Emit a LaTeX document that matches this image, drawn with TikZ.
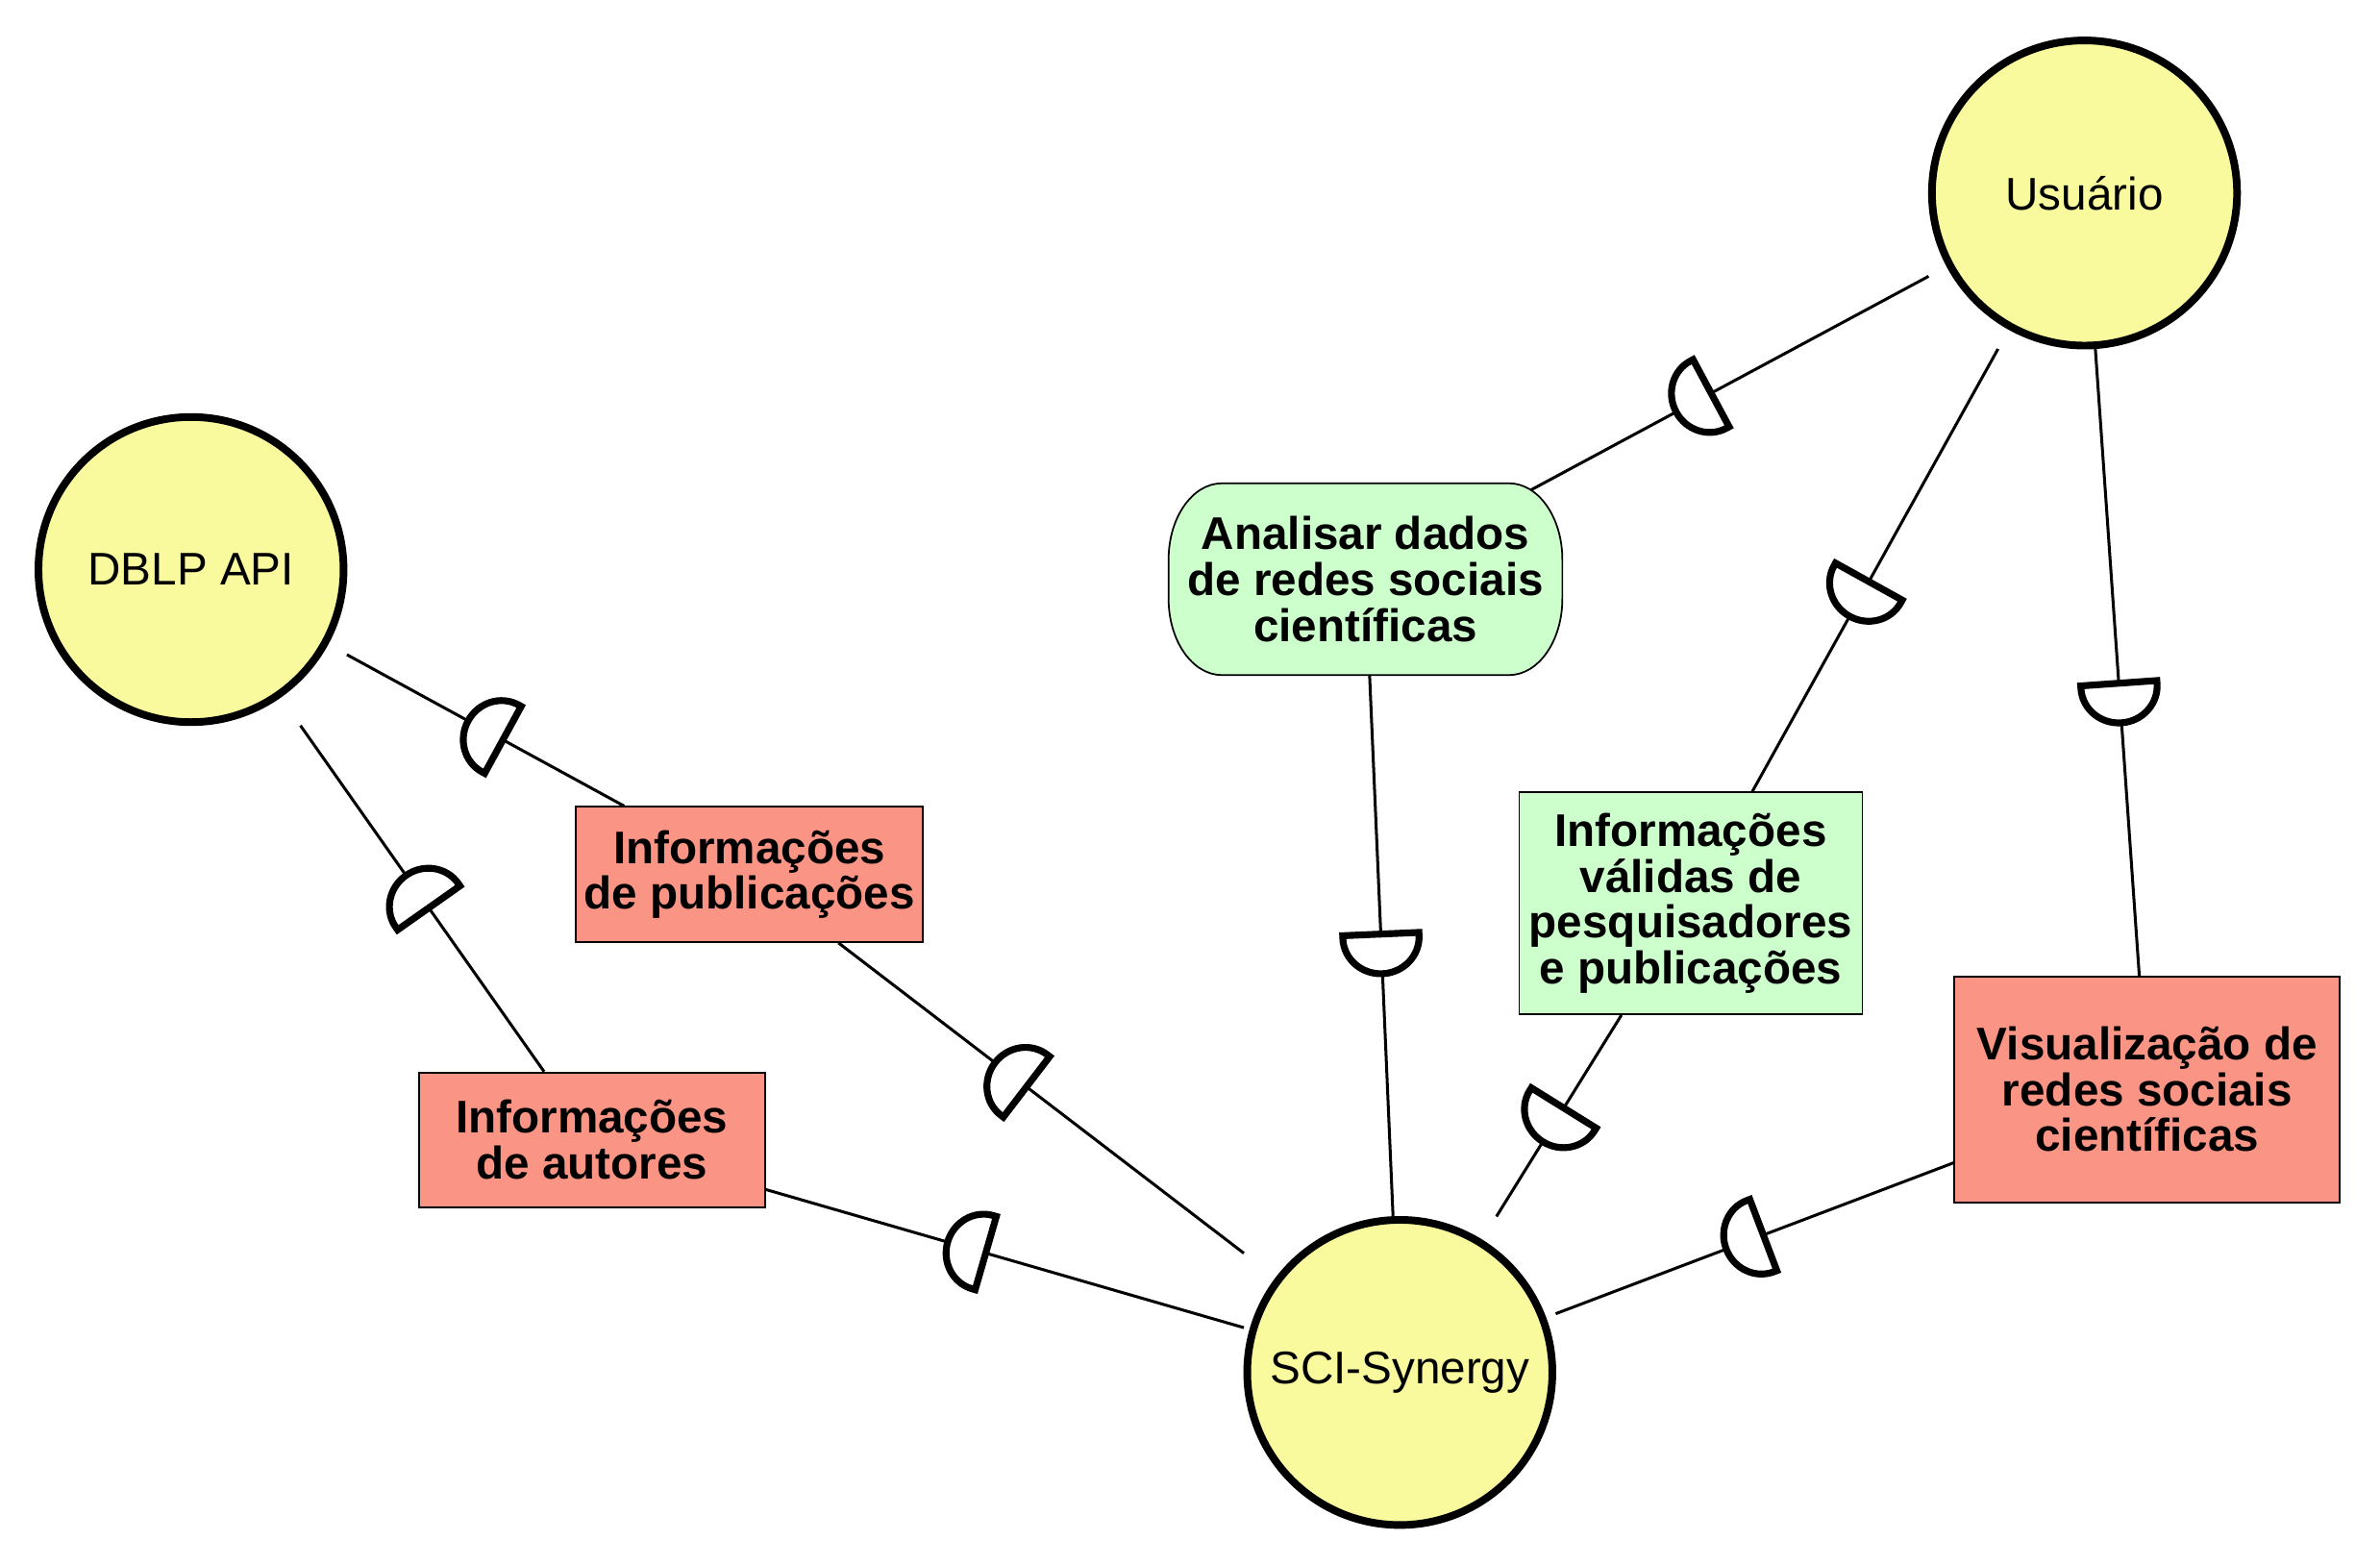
\documentclass[tikz,border=0pt]{standalone}
\usepackage{fontspec}
\setmainfont{Liberation Sans}
\usetikzlibrary{decorations.markings,backgrounds}
\definecolor{ycirc}{RGB}{249,249,157}
\definecolor{salmon}{RGB}{250,148,132}
\definecolor{mint}{RGB}{204,255,204}
\tikzset{
  ring/.style={circle, draw, line width=5pt, fill=ycirc, minimum size=200pt, inner sep=0pt},
  hub/.style={rectangle, minimum size=204pt, inner sep=0pt, font=\fontsize{30}{30}\selectfont},
  boxbase/.style={rectangle, inner sep=0pt, align=center,
    font=\fontsize{30}{30}\selectfont\bfseries},
  redbox/.style={boxbase, draw, line width=1.1pt, fill=salmon},
  greenbox/.style={boxbase, draw, line width=1.1pt, fill=mint},
  softbox/.style={boxbase},
  softline/.style={draw, line width=1.1pt, fill=mint},
  conn/.style={line width=1.9pt},
  dsym/.style={postaction={decorate, decoration={markings,
      mark=at position #1 with {\draw[line width=4.5pt, fill=white, line join=miter]
        (-13pt,-25pt) -- (-13pt,25pt) -- (-11pt,25pt)
        arc[start angle=90, end angle=-90, x radius=24pt, y radius=25pt] -- cycle;}}}}
}
\begin{document}
\begin{tikzpicture}[x=1pt,y=1pt]
\useasboundingbox (0,0) rectangle (1560,-1025.7);
% circles
\node[ring] (dblpring) at (125.2,-373.3) {};
\node[hub] (dblp) at (dblpring.center) {DBLP API};
\node[ring] (usrring) at (1366.3,-126.5) {};
\node[hub] (usr) at (usrring.center) {Usuário};
\node[ring] (sciring) at (917.5,-899.5) {};
\node[hub] (sci) at (sciring.center) {SCI-Synergy};
% boxes
\node[softbox, minimum width=257.7pt, minimum height=125.3pt]
  (ana) at (895,-379.6) {Analisar dados\\de redes sociais\\científicas};
\begin{pgfonlayer}{background}
\path[softline]
  ([xshift=35pt]ana.north west) -- ([xshift=-35pt]ana.north east)
  arc[start angle=90, end angle=0, x radius=35pt, y radius=50pt]
  -- ([yshift=50pt]ana.south east)
  arc[start angle=0, end angle=-90, x radius=35pt, y radius=50pt]
  -- ([xshift=35pt]ana.south west)
  arc[start angle=270, end angle=180, x radius=35pt, y radius=50pt]
  -- ([yshift=-50pt]ana.north west)
  arc[start angle=180, end angle=90, x radius=35pt, y radius=50pt]
  -- cycle;
\end{pgfonlayer}
\node[redbox, minimum width=227.2pt, minimum height=88.6pt]
  (ipub) at (491.2,-573.1) {Informações\\de publicações};
\node[redbox, minimum width=227pt, minimum height=88.2pt]
  (iaut) at (388,-747) {Informações\\de autores};
\node[greenbox, minimum width=225pt, minimum height=145.5pt]
  (ival) at (1108.2,-592) {Informações\\válidas de\\pesquisadores\\e publicações};
\node[redbox, minimum width=252.6pt, minimum height=148pt]
  (vis) at (1407.4,-714) {Visualização de\\redes sociais\\científicas};
% connectors
\draw[conn, dsym=0.5]   (ipub) -- (dblp);
\draw[conn, dsym=0.52]  (iaut) -- (dblp);
\draw[conn, dsym=0.575] (sci) -- (ipub);
\draw[conn, dsym=0.58]  (sci) -- (iaut);
\draw[conn, dsym=0.61, shorten >=-9.5pt] (usr) -- (ana);
\draw[conn, dsym=0.515] (ana) -- (sci);
\draw[conn, dsym=0.565] (usr) -- (ival);
\draw[conn, dsym=0.545] (ival) -- (sci);
\draw[conn, dsym=0.565] (usr) -- (vis);
\draw[conn, dsym=0.525] (vis) -- (sci);
\end{tikzpicture}
\end{document}
